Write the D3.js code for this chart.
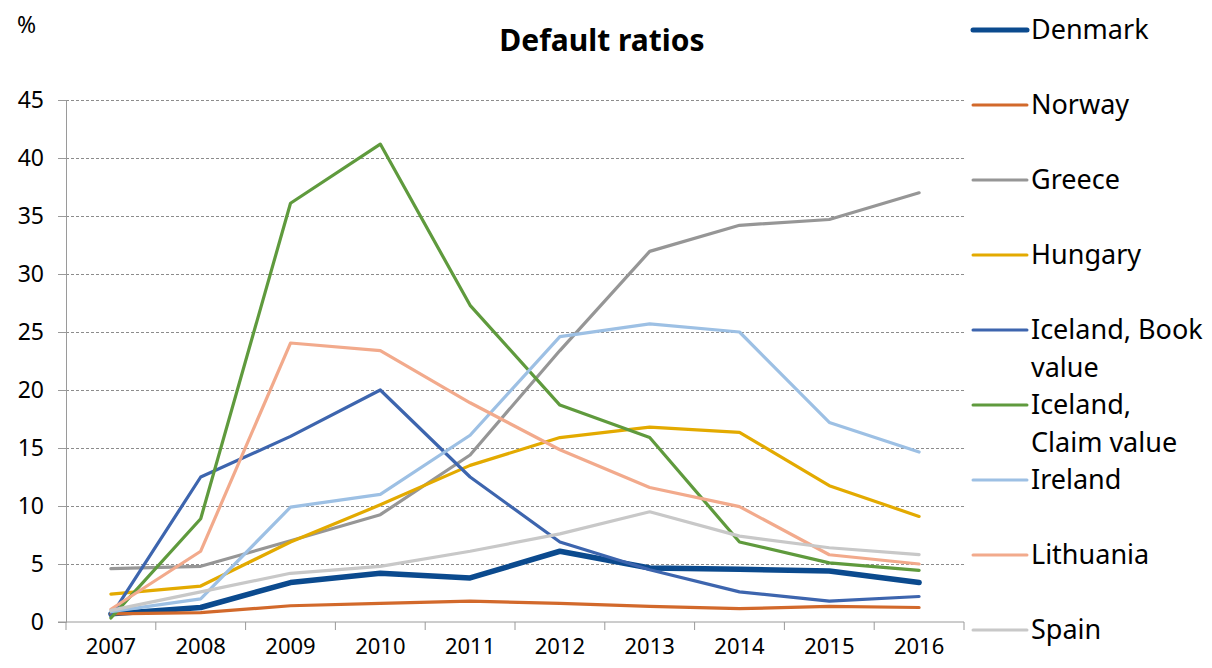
<!DOCTYPE html>
<html>
<head>
<meta charset="utf-8">
<script src="https://cdn.jsdelivr.net/npm/d3@7"></script>
<style>
  body { margin: 0; background: #fff; }
  svg { display: block; font-family: "Noto Sans", sans-serif; }
</style>
</head>
<body>
<svg id="chart" width="1212" height="668"></svg>
<script>
// Chart data
const years = ["2007", "2008", "2009", "2010", "2011", "2012", "2013", "2014", "2015", "2016"];
const yTicks = [0, 5, 10, 15, 20, 25, 30, 35, 40, 45];

const denmark      = [0.7, 1.25, 3.4, 4.2, 3.8, 6.1, 4.65, 4.55, 4.4, 3.4];
const norway       = [0.7, 0.8, 1.4, 1.6, 1.8, 1.6, 1.35, 1.15, 1.35, 1.25];
const greece       = [4.6, 4.8, 7.0, 9.25, 14.4, 23.4, 31.95, 34.2, 34.7, 37.0];
const hungary      = [2.4, 3.1, 6.9, 10.1, 13.5, 15.9, 16.8, 16.35, 11.75, 9.1];
const icelandBook  = [0.5, 12.5, 16.0, 20.0, 12.5, 6.9, 4.5, 2.6, 1.8, 2.2];
const icelandClaim = [0.35, 8.9, 36.1, 41.2, 27.3, 18.7, 15.9, 6.9, 5.1, 4.45];
const ireland      = [0.9, 2.0, 9.9, 11.0, 16.1, 24.6, 25.7, 25.0, 17.2, 14.65];
const lithuania    = [1.1, 6.1, 24.05, 23.4, 18.9, 14.85, 11.6, 9.95, 5.8, 5.0];
const spain        = [1.0, 2.6, 4.2, 4.8, 6.1, 7.6, 9.5, 7.4, 6.4, 5.8];

const seriesNames  = ["Denmark", "Norway", "Greece", "Hungary", "Iceland, Book value",
                      "Iceland, Claim value", "Ireland", "Lithuania", "Spain"];
const seriesValues = [denmark, norway, greece, hungary, icelandBook,
                      icelandClaim, ireland, lithuania, spain];
const seriesColors = ["#0b4a8e", "#d2692b", "#969696", "#e3aa00", "#3d65ae",
                      "#5f9a3d", "#9dc0e4", "#f2aa8c", "#c8c8c8"];

// Layout
const svg = d3.select("#chart");
const plotLeft = 66, plotRight = 964, plotTop = 100, plotBottom = 622;
const fontFamily = "'Noto Sans', sans-serif";

const x = d3.scaleBand().domain(years).range([plotLeft, plotRight]);
const y = d3.scaleLinear().domain([0, 45]).range([plotBottom, plotTop]);

// Title and unit
svg.append("text")
  .attr("x", 602).attr("y", 51)
  .attr("text-anchor", "middle")
  .style("font-size", "30px").style("font-weight", "bold")
  .text("Default ratios");

svg.append("text")
  .attr("x", 17).attr("y", 33)
  .style("font-size", "23px")
  .text("%");

// Gridlines (dashed)
const grid = svg.append("g")
  .attr("transform", `translate(${plotLeft},0)`)
  .call(d3.axisLeft(y).tickValues(yTicks.slice(1)).tickSize(-(plotRight - plotLeft)).tickFormat(""));
grid.select(".domain").remove();
grid.selectAll("line")
  .attr("stroke", "#8c8c8c")
  .attr("stroke-dasharray", "3,2");

// Y axis
const yAxis = svg.append("g")
  .attr("transform", `translate(${plotLeft},0)`)
  .call(d3.axisLeft(y).tickValues(yTicks).tickSize(8).tickPadding(14));
yAxis.select(".domain").attr("stroke", "#9a9a9a");
yAxis.selectAll("line").attr("stroke", "#9a9a9a");
yAxis.selectAll("text")
  .style("font-family", fontFamily).style("font-size", "23px").attr("fill", "#000");

// X axis: labels at band centres, tick marks at band edges
const xAxis = svg.append("g")
  .attr("transform", `translate(0,${plotBottom})`)
  .call(d3.axisBottom(x).tickSize(0).tickPadding(16));
xAxis.select(".domain").attr("d", `M${plotLeft - 8},0H${plotRight}`).attr("stroke", "#9a9a9a");
xAxis.selectAll("text")
  .style("font-family", fontFamily).style("font-size", "22px").attr("fill", "#000");

const edges = years.map(d => x(d)).concat([plotRight]);
xAxis.selectAll(".edge")
  .data(edges)
  .enter().append("line")
  .attr("class", "edge")
  .attr("x1", d => d).attr("x2", d => d)
  .attr("y1", 0).attr("y2", 8)
  .attr("stroke", "#9a9a9a");

// Lines
const line = d3.line()
  .x((d, i) => x(years[i]) + x.bandwidth() / 2)
  .y(d => y(d));

svg.append("g").selectAll("path")
  .data(seriesValues)
  .enter().append("path")
  .attr("fill", "none")
  .attr("stroke", (d, i) => seriesColors[i])
  .attr("stroke-width", (d, i) => i === 0 ? 5.5 : 3.2)
  .attr("stroke-linejoin", "round")
  .attr("stroke-linecap", "round")
  .attr("d", line);

// Legend
const legend = svg.append("g");
const items = legend.selectAll("g")
  .data(seriesNames)
  .enter().append("g")
  .attr("transform", (d, i) => `translate(973,${30 + i * 75})`);

items.append("line")
  .attr("x1", 0).attr("x2", 54)
  .attr("stroke", (d, i) => seriesColors[i])
  .attr("stroke-width", (d, i) => i === 0 ? 5 : 3)
  .attr("stroke-linecap", "round");

items.append("text")
  .attr("x", 58)
  .attr("y", 9)
  .style("font-size", "27px")
  .attr("fill", "#000")
  .each(function(d) {
    // wrap the two long Iceland names like the original
    let parts = d === "Iceland, Book value" ? ["Iceland, Book", "value"]
              : d === "Iceland, Claim value" ? ["Iceland,", "Claim value"]
              : [d];
    d3.select(this).selectAll("tspan")
      .data(parts)
      .enter().append("tspan")
      .attr("x", 58)
      .attr("dy", (p, j) => j === 0 ? 0 : 38)
      .text(p => p);
  });
</script>
</body>
</html>
